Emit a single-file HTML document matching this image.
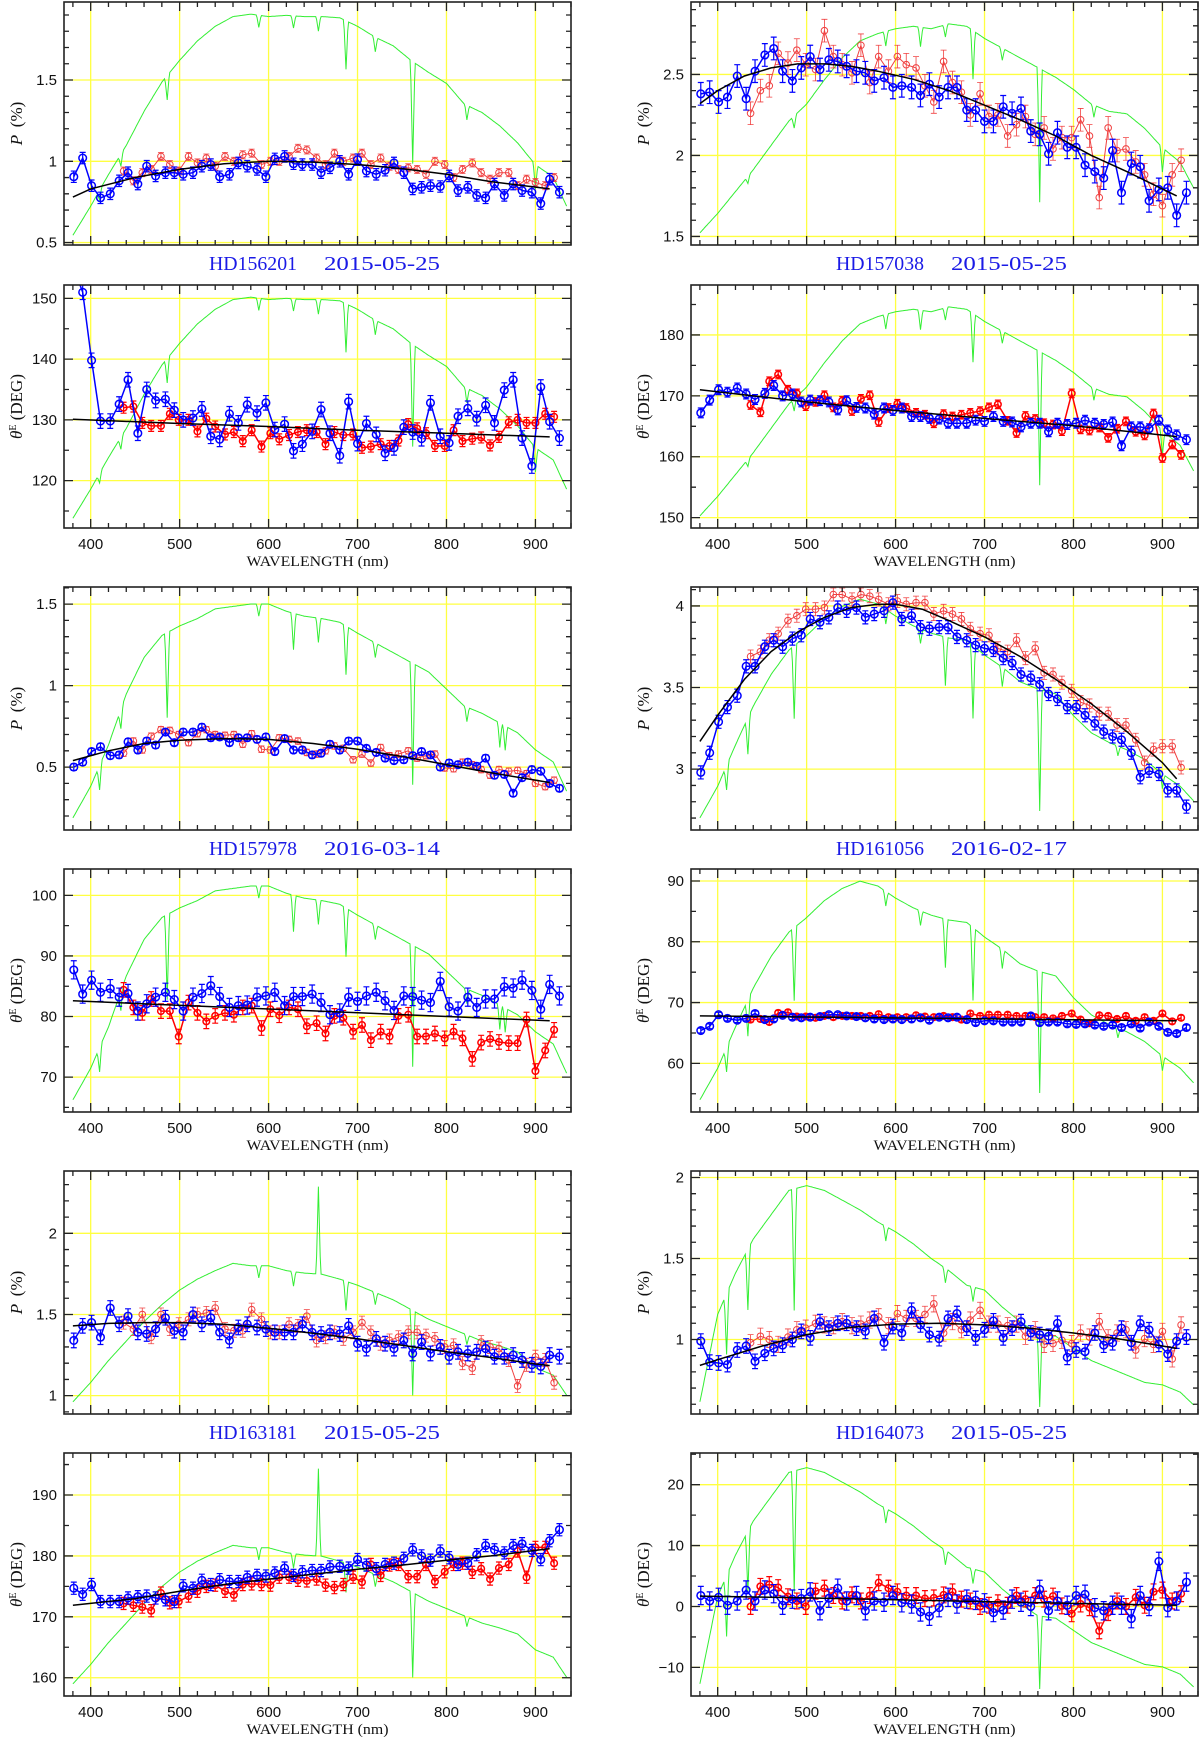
<!DOCTYPE html>
<html><head><meta charset="utf-8"><title>Polarization spectra</title>
<style>
html,body{margin:0;padding:0;background:#fff;}
svg{display:block;}
</style></head>
<body>
<svg id="fig" xmlns="http://www.w3.org/2000/svg" width="1200" height="1737" viewBox="0 0 1200 1737"></svg>
<script>
const blueNm=[381,391,401,411,422,432,442,453,463,473,484,494,504,515,525,535,545,556,566,576,587,597,607,618,628,638,649,659,669,680,690,700,710,721,731,741,752,762,772,782,793,803,813,824,834,844,854,865,875,885,896,906,916,927];
const redNm=[437,448,458,468,479,489,499,510,520,530,540,551,561,571,581,592,602,612,623,633,643,654,664,674,684,695,705,715,726,736,746,757,767,777,787,798,808,818,829,839,849,859,870,880,890,900,911,921];
const greenNm=[380,400,420,440,460,480,500,520,540,560,580,600,620,640,660,680,700,720,740,760,780,800,820,840,860,880,900,920,940];

const aBlue=[0.905,1.02,0.85,0.775,0.80,0.88,0.93,0.86,0.97,0.91,0.93,0.93,0.92,0.93,0.97,0.98,0.905,0.92,0.99,0.97,0.95,0.905,1.015,1.03,0.985,0.98,0.98,0.93,0.96,1.0,0.92,1.01,0.94,0.92,0.945,0.99,0.93,0.83,0.84,0.85,0.845,0.91,0.82,0.84,0.79,0.775,0.86,0.79,0.86,0.82,0.81,0.74,0.89,0.81];
const aRed=[0.94,0.88,0.93,0.95,1.03,0.98,0.94,1.03,0.99,1.02,0.97,1.03,1.0,1.04,1.05,0.98,1.0,1.0,1.03,1.08,1.07,1.02,0.98,1.05,1.0,1.02,1.05,0.98,1.02,0.97,0.95,0.96,0.95,0.92,1.0,0.98,0.90,0.95,0.99,0.93,0.89,0.93,0.93,0.85,0.89,0.87,0.85,0.90];
const aFitNm=[380,400,450,500,550,600,650,700,750,800,850,916];
const aFitVal=[0.78,0.83,0.90,0.95,0.985,1.0,0.995,0.98,0.955,0.92,0.875,0.83];

const bBlue=[155,151,139.8,129.8,129.8,132.6,136.6,127.8,135,133.2,133.4,131.6,130,130.3,131.8,127.3,126.8,131,129.5,132.5,131.1,132.8,128.4,129.3,124.9,126,128.1,131.7,127.8,124.1,133,126.1,129.4,127.6,124.5,125.4,128.8,128,126.9,132.8,127.3,126.2,130.6,131.9,130.2,132.4,129.5,134.9,136.6,127,122.4,135.4,129.7,127];
const bRed=[132,132.2,129.5,129,129,131,130,130,128.1,130.2,128.9,127.6,128,126.5,128.3,125.6,127.8,126.8,127.5,128,128.3,128,126,128,127.5,127.6,125.4,125.6,126,125.7,126.6,129.3,128.6,127.8,125.7,125.7,128.3,126.5,126.9,127.1,125.8,127.2,129.6,130,129.5,129.5,131,130.5];
const bFitNm=[380,500,600,700,800,916];
const bFitVal=[130.1,129.4,128.9,128.3,127.8,127.2];

const cBlue=[2.38,2.39,2.33,2.36,2.49,2.35,2.52,2.62,2.66,2.52,2.46,2.54,2.61,2.53,2.59,2.58,2.55,2.52,2.51,2.46,2.48,2.42,2.43,2.42,2.37,2.44,2.36,2.42,2.42,2.28,2.28,2.21,2.21,2.30,2.26,2.29,2.15,2.13,2.01,2.14,2.05,2.05,1.94,1.90,1.86,2.03,1.77,1.95,1.93,1.72,1.79,1.80,1.63,1.77];
const cRed=[2.26,2.40,2.43,2.63,2.57,2.65,2.56,2.53,2.77,2.61,2.56,2.51,2.68,2.45,2.61,2.52,2.61,2.56,2.54,2.43,2.33,2.58,2.45,2.39,2.25,2.38,2.24,2.25,2.12,2.19,2.24,2.13,2.17,2.04,2.11,2.11,2.22,2.12,1.74,2.17,2.03,2.04,1.96,1.88,1.76,1.69,1.88,1.97];
const cFitNm=[380,400,430,460,490,520,550,580,620,660,700,740,780,820,860,916];
const cFitVal=[2.32,2.40,2.49,2.54,2.565,2.565,2.55,2.52,2.47,2.40,2.31,2.22,2.12,2.00,1.90,1.75];

const dBlue=[167.2,169.3,171,170.6,171.3,170.3,169.4,170.4,171.7,170,170.3,169,169.3,169.2,169,167.7,169.2,168.1,168,167,168,167.6,168,166.6,166.6,166.3,166.2,165.5,165.5,165.5,166,165.8,166.6,165.8,165.7,164.9,165.5,165.5,164.1,165.5,165.3,165.5,166,165.5,165.3,165.7,161.8,164.9,164.9,164.6,166,164.4,163.6,162.8];
const dRed=[168.5,167.3,172.4,173.5,171,170.4,168.3,169,170.1,168.1,169.2,167.5,169.5,170.1,165.7,168,168.7,168,167.2,166.9,165.5,167,166.6,166.9,167.2,167.5,168.1,168.6,165.9,163.9,166.7,166.2,165.5,165.3,164.2,170.4,164.5,164.3,164.8,163.1,164.6,165.8,164.1,163.5,167.1,159.8,162,160.3];
const dFitNm=[380,500,600,700,800,916];
const dFitVal=[171,169,167.6,166.3,165.1,163.3];

const eBlue=[0.5,0.53,0.595,0.625,0.57,0.575,0.655,0.605,0.66,0.635,0.715,0.65,0.715,0.715,0.745,0.68,0.685,0.65,0.68,0.68,0.67,0.685,0.595,0.675,0.605,0.605,0.575,0.585,0.64,0.605,0.66,0.66,0.615,0.59,0.555,0.54,0.545,0.57,0.595,0.575,0.5,0.525,0.515,0.53,0.505,0.555,0.45,0.455,0.34,0.435,0.485,0.475,0.40,0.37];
const eRed=[0.585,0.66,0.605,0.69,0.73,0.725,0.70,0.65,0.705,0.73,0.70,0.695,0.70,0.64,0.705,0.61,0.605,0.68,0.67,0.66,0.59,0.58,0.60,0.63,0.615,0.545,0.58,0.525,0.62,0.57,0.58,0.60,0.555,0.57,0.58,0.495,0.49,0.53,0.515,0.485,0.45,0.485,0.475,0.48,0.46,0.40,0.38,0.42];
const eFitNm=[380,420,460,500,550,600,650,700,750,800,850,900,916];
const eFitVal=[0.54,0.60,0.645,0.665,0.675,0.67,0.645,0.61,0.565,0.515,0.465,0.42,0.405];

const fBlue=[87.7,83.7,86,84,84.6,83.2,83.8,80.9,82.1,83.2,84,82.8,80.9,83.2,83.8,85.1,83.3,81.5,81.8,81.9,83.2,83.4,84,81.8,83.3,83.3,83.7,82.3,80.3,80.6,83.2,82.5,83.4,84,82.6,81,83.4,83.3,82.7,82.3,85.8,81.6,80.9,83.2,81.5,82.9,82.9,84.9,84.7,86,84.3,81.2,85.3,83.4];
const fRed=[84.4,81.5,80.6,82.9,80.9,80.9,76.7,82.3,80.6,79.2,80.1,80.6,80.3,81.5,81.8,78.1,81.2,80.2,81.5,81.2,78.4,78.9,77.2,80.1,79.8,77.5,78.6,76.1,77.5,76.7,80.1,80.3,76.7,76.7,77.2,76.4,77.5,76.4,73,75.7,76.3,75.8,75.6,75.6,79.5,71,74.4,77.8];
const fFitNm=[380,916];
const fFitVal=[82.6,79.3];

const gBlue=[2.98,3.10,3.29,3.38,3.45,3.63,3.63,3.75,3.79,3.75,3.80,3.82,3.92,3.90,3.93,3.99,3.97,3.99,3.93,3.95,3.97,4.02,3.92,3.94,3.87,3.86,3.87,3.87,3.81,3.79,3.76,3.74,3.73,3.68,3.65,3.58,3.56,3.52,3.46,3.43,3.38,3.38,3.33,3.28,3.23,3.20,3.18,3.10,2.95,2.99,2.97,2.87,2.87,2.77];
const gRed=[3.69,3.72,3.79,3.83,3.91,3.94,3.98,3.98,3.99,4.07,4.07,4.04,4.07,4.06,4.04,4.01,4.03,4.01,4.02,4.02,3.95,3.97,3.95,3.92,3.86,3.83,3.82,3.74,3.72,3.79,3.68,3.74,3.59,3.58,3.53,3.48,3.41,3.39,3.34,3.34,3.27,3.27,3.18,3.04,3.12,3.14,3.14,3.01];
const gFitNm=[380,400,430,460,490,520,550,580,600,630,660,700,740,780,820,860,900,916];
const gFitVal=[3.17,3.33,3.55,3.72,3.84,3.93,3.99,4.01,4.01,3.98,3.91,3.81,3.69,3.55,3.40,3.23,3.04,2.94];

const hBlue=[65.4,66.1,68.0,67.4,67.1,67.4,68.2,67.2,67.3,67.9,67.6,67.5,67.6,67.7,68.0,68.0,67.8,67.7,67.5,67.3,67.2,67.3,67.2,67.3,67.5,67.1,67.6,67.5,67.6,67.2,66.7,67.0,67.0,66.8,66.8,66.8,67.8,66.7,66.8,66.8,66.5,66.4,66.5,66.3,66.1,66.3,65.9,66.5,65.8,66.8,66.1,65.1,64.9,65.9];
const hRed=[67.2,67.3,66.8,68.3,68.4,67.7,67.7,67.5,67.8,67.6,67.8,67.8,67.8,67.8,68.1,67.6,67.6,67.6,67.9,67.7,67.6,67.8,67.6,67.2,68.2,67.8,68.0,68.0,68.0,67.8,67.8,67.6,67.6,67.4,67.8,68.2,67.2,66.6,67.9,67.8,67.3,67.8,67.0,67.6,67.0,68.2,66.9,67.5];
const hFitNm=[380,916];
const hFitVal=[67.8,67.0];

const iBlue=[1.34,1.43,1.45,1.36,1.54,1.44,1.49,1.39,1.38,1.41,1.48,1.40,1.39,1.50,1.44,1.48,1.39,1.34,1.42,1.44,1.42,1.41,1.39,1.39,1.39,1.44,1.39,1.38,1.39,1.38,1.43,1.32,1.29,1.35,1.32,1.29,1.34,1.26,1.33,1.26,1.30,1.24,1.27,1.26,1.27,1.29,1.24,1.24,1.25,1.22,1.19,1.18,1.25,1.24];
const iRed=[1.45,1.41,1.50,1.36,1.50,1.41,1.44,1.47,1.50,1.51,1.54,1.41,1.40,1.40,1.53,1.47,1.39,1.39,1.44,1.43,1.49,1.34,1.36,1.39,1.35,1.39,1.45,1.39,1.32,1.34,1.36,1.39,1.39,1.37,1.35,1.30,1.31,1.20,1.17,1.33,1.30,1.29,1.22,1.06,1.19,1.24,1.22,1.08];
const iFitNm=[380,420,460,500,550,600,650,700,750,800,850,900,916];
const iFitVal=[1.43,1.445,1.45,1.45,1.44,1.415,1.385,1.35,1.31,1.27,1.235,1.195,1.185];

const jBlue=[174.7,173.7,175.3,172.5,172.5,172.5,173.1,173.3,173.4,173.1,172.8,172.5,175.1,174.7,176,175.3,176.1,175.8,175.8,176.5,176.8,176.7,177.2,178,176.8,177.4,177.6,177.6,178.2,178.3,178,179.4,178.5,177.9,178.6,178.8,179.6,181,180,179.3,180.8,179.7,178.6,178.8,180.2,181.7,181,180.5,181.7,182,180.9,179.4,182.5,184.3];
const jRed=[172.2,171.9,171.6,171,173.9,172.3,172.5,173.4,174.2,175,175.2,174.2,173.6,175.3,175.4,175.3,175.2,176.5,176.5,176,175.9,176.2,175.2,174.8,175.3,176.5,175.7,178.6,176.8,178.5,178.6,176.6,176.6,178.6,175.8,177.4,178.6,178.8,177.3,177.9,176.2,178,178.6,180.8,176.5,181.4,181.4,178.8];
const jFitNm=[380,450,500,550,600,650,700,750,800,850,916];
const jFitVal=[171.9,173,174.2,175.3,176.2,177,177.8,178.5,179.3,180,181.2];

const kBlue=[0.99,0.86,0.855,0.845,0.935,0.96,0.865,0.915,0.945,0.965,1.0,1.05,1.01,1.11,1.07,1.10,1.10,1.07,1.05,1.13,0.98,1.08,1.04,1.18,1.09,1.03,1.005,1.13,1.16,1.07,1.01,1.06,1.115,1.01,1.07,1.11,1.04,1.03,1.02,1.10,0.89,0.935,0.925,1.04,0.965,0.98,1.07,0.98,1.10,1.06,0.97,0.91,0.99,1.015];
const kRed=[0.98,1.02,1.0,0.97,1.015,1.06,1.07,1.10,1.09,1.085,1.11,1.085,1.095,1.12,1.14,1.085,1.16,1.13,1.13,1.155,1.22,1.04,1.11,1.06,1.12,1.18,1.095,1.095,1.085,1.095,1.02,1.06,0.97,0.975,0.995,0.975,1.04,1.015,1.11,1.01,1.04,1.06,0.935,1.005,0.97,1.05,0.88,1.09];
const kFitNm=[380,400,450,500,550,600,650,700,750,800,850,900,916];
const kFitVal=[0.84,0.875,0.96,1.03,1.075,1.095,1.10,1.09,1.07,1.04,1.005,0.96,0.945];

const lBlue=[1.8,0.9,1.5,0.2,0.9,2.7,0.9,2.7,2.1,0.2,1.2,1.3,2.4,-0.7,1.35,3,0.9,1.8,-0.7,0.9,0.7,1.8,0.6,0.4,-0.9,-1.6,-0.2,1.5,0.4,1.2,1.0,0.6,-1.0,-0.6,1.2,0.7,0,2.8,-0.7,0.9,0.2,1.8,2.0,-0.2,-0.7,0.2,0.2,-2.0,1.8,0,7.4,-0.2,0.9,4.0];
const lRed=[0,3.3,3.6,3.1,1.6,0.9,0,2.5,3.0,1.8,0.9,1.9,0.9,1.8,3.9,3.0,2.4,1.8,1.8,1.3,1.4,1.9,2.4,1.2,0.9,0,0.2,0.6,0.2,1.8,1.2,1.8,1.2,1.7,0.1,-1.2,0.4,-0.2,-4.0,-1.0,0.9,0,1.5,0.2,2.4,2.7,0.9,2.1];
const lFitNm=[380,500,600,700,800,916];
const lFitVal=[1.7,1.4,1.1,0.8,0.5,0.2];

const star1Green=[.04,.16,.29,.41,.55,.67,.76,.84,.90,.94,.95,.94,.945,.94,.94,.935,.90,.855,.82,.76,.71,.665,.58,.545,.49,.42,.33,.28,.12];
const star2Green=[.05,.13,.22,.31,.41,.51,.58,.68,.77,.84,.87,.89,.90,.89,.91,.90,.85,.81,.77,.73,.69,.64,.58,.55,.54,.48,.40,.34,.20];
const star3Green=[.05,.18,.35,.56,.71,.80,.84,.87,.91,.92,.93,.93,.90,.88,.87,.855,.81,.77,.73,.69,.65,.58,.51,.48,.44,.40,.33,.28,.12];
const star4Green=[.05,.18,.35,.51,.64,.74,.80,.87,.92,.95,.93,.88,.84,.81,.79,.78,.72,.67,.61,.58,.56,.47,.40,.36,.33,.29,.23,.18,.10];
const star5Green=[.05,.13,.22,.30,.38,.45,.51,.555,.59,.62,.61,.61,.59,.58,.575,.555,.53,.50,.47,.43,.39,.36,.33,.30,.28,.255,.19,.16,.05];
const star6Green=[.05,.41,.58,.72,.82,.92,.94,.92,.88,.84,.79,.75,.70,.64,.59,.53,.51,.44,.38,.33,.32,.27,.22,.19,.16,.13,.12,.09,.02];
const star1DipNm=[410,434,486,589,628,656,687,720,762,823,900];
const star1DipDepth=[.04,.05,.1,.05,.05,.06,.2,.06,.42,.06,.1];
const star2DipNm=[434,486,589,628,656,687,720,762,823,900];
const star2DipDepth=[.03,.05,.06,.08,.05,.2,.05,.55,.05,.1];
const star3DipNm=[410,434,486,589,628,656,687,720,762,823,860,866];
const star3DipDepth=[.1,.08,.35,.05,.15,.1,.2,.06,.5,.06,.1,.1];
const star4DipNm=[410,434,486,589,628,656,687,720,762,850,900];
const star4DipDepth=[.1,.15,.3,.06,.06,.2,.3,.08,.5,.04,.06];
const star5DipNm=[589,628,656,687,720,762,823];
const star5DipDepth=[.05,.06,-.36,.12,.05,.35,.04];
const star6DipNm=[410,434,486,589,656,687,762];
const star6DipDepth=[.25,.25,.5,.06,.06,.06,.3];

const PANELS=[
 {id:'a',col:0,top:2,kind:'P',ymin:0.485,ymax:1.98,major:[0.5,1,1.5],labels:['0.5','1','1.5'],minor:0.1,blue:aBlue,red:aRed,bErr:0.035,rErr:0.025,fitX:aFitNm,fitY:aFitVal,green:star1Green,dipNm:star1DipNm,dipD:star1DipDepth,star:'HD156201',date:'2015-05-25'},
 {id:'b',col:0,top:285,kind:'T',ymin:112.2,ymax:152.2,major:[120,130,140,150],labels:['120','130','140','150'],minor:5,blue:bBlue,red:bRed,bErr:1.2,rErr:0.9,fitX:bFitNm,fitY:bFitVal,green:star1Green,dipNm:star1DipNm,dipD:star1DipDepth},
 {id:'c',col:1,top:2,kind:'P',ymin:1.447,ymax:2.947,major:[1.5,2,2.5],labels:['1.5','2','2.5'],minor:0.1,blue:cBlue,red:cRed,bErr:0.07,rErr:0.07,fitX:cFitNm,fitY:cFitVal,green:star2Green,dipNm:star2DipNm,dipD:star2DipDepth,star:'HD157038',date:'2015-05-25'},
 {id:'d',col:1,top:285,kind:'T',ymin:148.3,ymax:188.2,major:[150,160,170,180],labels:['150','160','170','180'],minor:5,blue:dBlue,red:dRed,bErr:0.8,rErr:0.7,fitX:dFitNm,fitY:dFitVal,green:star2Green,dipNm:star2DipNm,dipD:star2DipDepth},
 {id:'e',col:0,top:587,kind:'P',ymin:0.114,ymax:1.605,major:[0.5,1,1.5],labels:['0.5','1','1.5'],minor:0.1,blue:eBlue,red:eRed,bErr:0.02,rErr:0.02,fitX:eFitNm,fitY:eFitVal,green:star3Green,dipNm:star3DipNm,dipD:star3DipDepth,star:'HD157978',date:'2016-03-14'},
 {id:'f',col:0,top:869,kind:'T',ymin:64.24,ymax:104.35,major:[70,80,90,100],labels:['70','80','90','100'],minor:5,blue:fBlue,red:fRed,bErr:1.5,rErr:1.2,fitX:fFitNm,fitY:fFitVal,green:star3Green,dipNm:star3DipNm,dipD:star3DipDepth},
 {id:'g',col:1,top:587,kind:'P',ymin:2.627,ymax:4.116,major:[3,3.5,4],labels:['3','3.5','4'],minor:0.1,blue:gBlue,red:gRed,bErr:0.04,rErr:0.04,fitX:gFitNm,fitY:gFitVal,green:star4Green,dipNm:star4DipNm,dipD:star4DipDepth,star:'HD161056',date:'2016-02-17'},
 {id:'h',col:1,top:869,kind:'T',ymin:52.0,ymax:91.97,major:[60,70,80,90],labels:['60','70','80','90'],minor:5,blue:hBlue,red:hRed,bErr:0.4,rErr:0.4,fitX:hFitNm,fitY:hFitVal,green:star4Green,dipNm:star4DipNm,dipD:star4DipDepth},
 {id:'i',col:0,top:1171,kind:'P',ymin:0.887,ymax:2.384,major:[1,1.5,2],labels:['1','1.5','2'],minor:0.1,blue:iBlue,red:iRed,bErr:0.045,rErr:0.04,fitX:iFitNm,fitY:iFitVal,green:star5Green,dipNm:star5DipNm,dipD:star5DipDepth,star:'HD163181',date:'2015-05-25'},
 {id:'j',col:0,top:1453,kind:'T',ymin:157.0,ymax:196.9,major:[160,170,180,190],labels:['160','170','180','190'],minor:5,blue:jBlue,red:jRed,bErr:1.0,rErr:1.0,fitX:jFitNm,fitY:jFitVal,green:star5Green,dipNm:star5DipNm,dipD:star5DipDepth},
 {id:'k',col:1,top:1171,kind:'P',ymin:0.54,ymax:2.04,major:[1,1.5,2],labels:['1','1.5','2'],minor:0.1,blue:kBlue,red:kRed,bErr:0.045,rErr:0.05,fitX:kFitNm,fitY:kFitVal,green:star6Green,dipNm:star6DipNm,dipD:star6DipDepth,star:'HD164073',date:'2015-05-25'},
 {id:'l',col:1,top:1453,kind:'T',ymin:-14.7,ymax:25.2,major:[-10,0,10,20],labels:['\u221210','0','10','20'],minor:5,blue:lBlue,red:lRed,bErr:1.5,rErr:1.3,fitX:lFitNm,fitY:lFitVal,green:star6Green,dipNm:star6DipNm,dipD:star6DipDepth}
];
const xTicks=[400,500,600,700,800,900];
const xTickLabels=['400','500','600','700','800','900'];

const NS='http://www.w3.org/2000/svg';
const svg=document.getElementById('fig');
const COLX=[64,691], PW=507, PH=243, NMIN=370, NMAX=940;
function mk(tag,attrs,parent){const e=document.createElementNS(NS,tag);for(const k in attrs)e.setAttribute(k,attrs[k]);(parent||svg).appendChild(e);return e;}
function interp(xs,ys,x){if(x<=xs[0])return ys[0];for(let i=1;i<xs.length;i++){if(x<=xs[i]){const t=(x-xs[i-1])/(xs[i]-xs[i-1]);return ys[i-1]+t*(ys[i]-ys[i-1]);}}return ys[ys.length-1];}

PANELS.forEach(p=>{
  const x0=COLX[p.col], y0=p.top, y1=p.top+PH;
  const sx=nm=>x0+(nm-NMIN)/(NMAX-NMIN)*PW;
  const sy=v=>y1-(v-p.ymin)/(p.ymax-p.ymin)*PH;
  const g=mk('g',{});
  
  
  const cp=mk('clipPath',{id:'clip'+p.id},g);
  mk('rect',{x:x0,y:y0,width:PW,height:PH},cp);
  const plot=mk('g',{'clip-path':'url(#clip'+p.id+')'},g);
  
  
  xTicks.forEach(t=>{const l=mk('line',{x1:sx(t),x2:sx(t),y1:y0,y2:y1,stroke:'#ffff40','stroke-width':1.3},plot);
    
    });
  p.major.forEach(t=>{const l=mk('line',{x1:x0,x2:x0+PW,y1:sy(t),y2:sy(t),stroke:'#ffff40','stroke-width':1.3},plot);
    
    });
  let gp=[];
  for(let nm=380;nm<=935;nm+=1){
    let f=interp(greenNm,p.green,nm);
    for(let i=0;i<p.dipNm.length;i++){const d=Math.abs(nm-p.dipNm[i]);if(d<2.5)f-=p.dipD[i]*(1-d/2.5);}
    gp.push(sx(nm).toFixed(1)+','+(y1-f*PH).toFixed(1));
  }
  const gl=mk('polyline',{points:gp.join(' '),fill:'none',stroke:'#33ee33','stroke-width':1},plot);
  
  
  function series(nms,vals,err,color,lw,r,name){
    const sg=mk('g',{},plot);
    
    
    mk('polyline',{points:nms.map((n,i)=>sx(n).toFixed(1)+','+sy(vals[i]).toFixed(1)).join(' '),fill:'none',stroke:color,'stroke-width':lw},sg);
    nms.forEach((n,i)=>{const x=sx(n),yt=sy(vals[i]+err),yb=sy(vals[i]-err);
      mk('path',{d:`M${x},${yt}V${yb}M${x-3},${yt}h6M${x-3},${yb}h6`,stroke:color,'stroke-width':lw*0.8,fill:'none'},sg);
      const c=mk('circle',{cx:x,cy:sy(vals[i]),r:r,fill:'none',stroke:color,'stroke-width':lw},sg);
      
      
    });
  }
  const redW=p.kind==='P'?1:1.5, redC=p.kind==='P'?'#f04040':'#ff0000';
  series(redNm,p.red,p.rErr,redC,redW,3.3,'red-series');
  series(blueNm,p.blue,p.bErr,'#0000ff',1.5,3.8,'blue-series');
  const fl=mk('polyline',{points:p.fitX.map((n,i)=>sx(n).toFixed(1)+','+sy(p.fitY[i]).toFixed(1)).join(' '),fill:'none',stroke:'#000','stroke-width':1.5},plot);
  
  
  const fr=mk('rect',{x:x0,y:y0,width:PW,height:PH,fill:'none',stroke:'#222','stroke-width':1.6},g);
  
  
  let td='';
  for(let t=380;t<=940;t+=20){const x=sx(t),L=(t%100===0)?9:5;td+=`M${x},${y1}v${-L}M${x},${y0}v${L}`;}
  const mstart=Math.ceil(p.ymin/p.minor-1e-6), mend=Math.floor(p.ymax/p.minor+1e-6);
  for(let k=mstart;k<=mend;k++){const v=k*p.minor,y=sy(v);const isMaj=p.major.some(m=>Math.abs(m-v)<1e-6);const L=isMaj?9:5;td+=`M${x0},${y}h${L}M${x0+PW},${y}h${-L}`;}
  const tk=mk('path',{d:td,stroke:'#222','stroke-width':1.3,fill:'none'},g);
  
  
  p.major.forEach((t,i)=>{const tx=mk('text',{x:x0-7,y:sy(t)+5,'text-anchor':'end','font-family':'Liberation Sans, sans-serif','font-size':15,fill:'#111'},g);
    tx.textContent=p.labels[i];
    
    });
  const yt=mk('text',{transform:`translate(${x0-42},${y0+PH/2}) rotate(-90)`,'text-anchor':'middle','font-family':'Liberation Serif, serif','font-size':17,fill:'#111'},g);
  
  
  if(p.kind==='P'){
    const a=mk('tspan',{'font-style':'italic'},yt);a.textContent='P';
    const b=mk('tspan',{},yt);b.textContent='\u2009 (%)';
  }else{
    const a=mk('tspan',{'font-style':'italic'},yt);a.textContent='\u03B8';
    const b=mk('tspan',{'font-size':10,dy:-6},yt);b.textContent='E';
    const c=mk('tspan',{dy:6},yt);c.textContent=' (DEG)';
  }
  if(p.kind==='T'){
    xTicks.forEach((t,i)=>{const tx=mk('text',{x:sx(t),y:y1+21,'text-anchor':'middle','font-family':'Liberation Sans, sans-serif','font-size':15,fill:'#111'},g);
      tx.textContent=xTickLabels[i];
      
      });
    const xl=mk('text',{x:x0+PW/2,y:y1+38,'text-anchor':'middle','font-family':'Liberation Serif, serif','font-size':15,fill:'#111',textLength:142,lengthAdjust:'spacingAndGlyphs'},g);
    xl.textContent='WAVELENGTH (nm)';
    
    
  }else{
    const t1=mk('text',{x:x0+145,y:y1+25,'font-family':'Liberation Serif, serif','font-size':20,fill:'#1a1ae6',textLength:88,lengthAdjust:'spacingAndGlyphs'},g);
    t1.textContent=p.star;
    
    
    const t2=mk('text',{x:x0+260,y:y1+25,'font-family':'Liberation Serif, serif','font-size':20,fill:'#1a1ae6',textLength:116,lengthAdjust:'spacingAndGlyphs'},g);
    t2.textContent=p.date;
    
    
  }
});
</script>
</body></html>
